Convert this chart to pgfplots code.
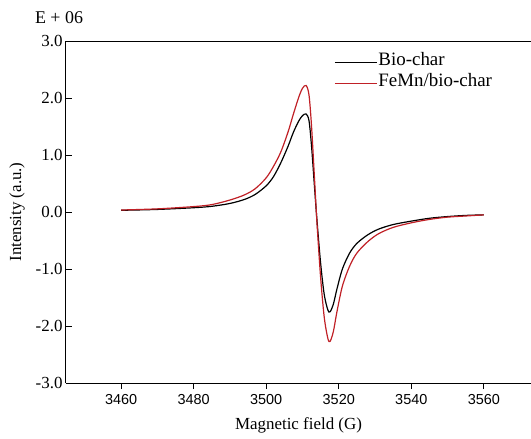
\documentclass[border=0pt]{standalone}
\usepackage{pgfplots}
\pgfplotsset{compat=1.18}
\usepackage{fontspec}
\setmainfont{Liberation Serif}
\setsansfont{Liberation Sans}
\definecolor{myred}{RGB}{192,32,38}
\begin{document}
\begin{tikzpicture}
\begin{axis}[
  at={(0,0)}, anchor=south west,
  scale only axis, width=465bp, height=342bp,
  xmin=3444.8, xmax=3573, ymin=-3, ymax=3,
  axis x line=box, axis y line=left,
  axis line style={-, line width=1.0bp},
  xtick={3460,3480,...,3560}, ytick={-3,-2,...,3},
  xtick pos=left,
  xtick align=outside, ytick align=inside,
  major tick length=6bp,
  every tick/.style={black, line width=1.0bp},
  /pgf/number format/assume math mode=true,
  xticklabel style={font=\fontsize{14.5}{16}\selectfont\sffamily, yshift=-2bp},
  xticklabel={\pgfmathprintnumber[set thousands separator={}]{\tick}},
  yticklabel style={font=\fontsize{17}{19}\selectfont},
  yticklabel={\pgfmathprintnumber[fixed, fixed zerofill, precision=1]{\tick}},
  xlabel={Magnetic field (G)}, ylabel={Intensity (a.u.)},
  label style={font=\fontsize{17}{19}\selectfont},
  xlabel style={at={(axis description cs:0.5,0)}, anchor=north, yshift=-31bp},
  ylabel style={at={(axis description cs:-0.105,0.5)}, anchor=center},
  legend style={at={(0.57,0.975)}, anchor=north west, draw=none, fill=none,
    font=\fontsize{19}{21}\selectfont, row sep=4bp, nodes={inner sep=1bp, anchor=base west}},
  legend cell align=left,
  legend image code/.code={\draw[#1] (0bp,0.3em) -- (42bp,0.3em);},
  clip=false,
]
\addplot[black, line width=1.2bp, smooth, tension=0.5] coordinates {
(3460,0.03) (3470,0.045) (3480,0.075) (3485,0.10) (3490,0.15) (3494,0.22)
(3497,0.31) (3500,0.46) (3502,0.62) (3504,0.86) (3506,1.15) (3507.5,1.40)
(3509,1.60) (3510,1.69) (3511,1.72) (3511.8,1.60) (3512.5,1.15) (3513.3,0.45)
(3514,-0.15) (3515,-0.90) (3516,-1.45) (3517,-1.72) (3517.6,-1.75) (3518.5,-1.62)
(3519.5,-1.35) (3521,-1.00) (3523,-0.72) (3525,-0.55) (3528,-0.40) (3531,-0.30)
(3535,-0.22) (3540,-0.16) (3545,-0.11) (3550,-0.08) (3555,-0.06) (3560,-0.05)
};
\addlegendentry{Bio-char}
\addplot[myred, line width=1.2bp, smooth, tension=0.5] coordinates {
(3460,0.035) (3470,0.055) (3480,0.095) (3485,0.13) (3490,0.21) (3494,0.30)
(3497,0.41) (3500,0.60) (3502,0.80) (3504,1.05) (3506,1.40) (3507.5,1.72)
(3509,2.02) (3510,2.17) (3511,2.22) (3511.8,2.05) (3512.5,1.50) (3513.3,0.60)
(3514,-0.20) (3515,-1.15) (3516,-1.85) (3517,-2.22) (3517.6,-2.27) (3518.5,-2.10)
(3519.5,-1.75) (3521,-1.30) (3523,-0.95) (3525,-0.72) (3528,-0.52) (3531,-0.38)
(3535,-0.27) (3540,-0.19) (3545,-0.13) (3550,-0.09) (3555,-0.07) (3560,-0.05)
};
\addlegendentry{FeMn/bio-char}
\node[anchor=south, font=\fontsize{18}{20}\selectfont] at ([xshift=-7bp, yshift=14bp]rel axis cs:0,1) {E + 06};
\end{axis}
\pgfresetboundingbox
\path (-66bp,-56bp) rectangle (465bp,383bp);
\end{tikzpicture}
\end{document}
